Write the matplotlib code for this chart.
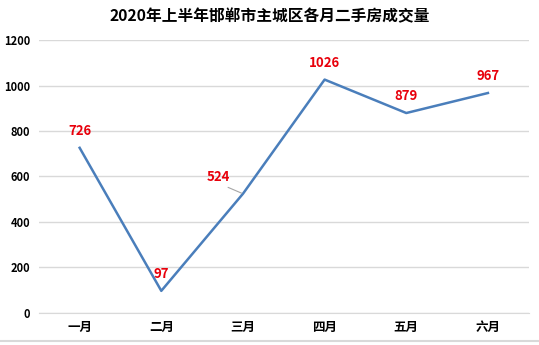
import matplotlib.pyplot as plt
from matplotlib.lines import Line2D

plt.rcParams['font.family'] = ['Noto Sans CJK SC', 'DejaVu Sans']

months = ['一月', '二月', '三月', '四月', '五月', '六月']
volumes = [726, 97, 524, 1026, 879, 967]
y_ticks = [0, 200, 400, 600, 800, 1000, 1200]
title = '2020年上半年邯郸市主城区各月二手房成交量'

fig = plt.figure(figsize=(5.39, 3.45), dpi=100)
ax = fig.add_axes([0.072, 0.093, 0.909, 0.791])

x = list(range(len(months)))
ax.plot(x, volumes, color='#4a7ebb', linewidth=1.8)

ax.set_xlim(-0.5, len(months) - 0.5)
ax.set_ylim(0, 1200)
ax.set_yticks(y_ticks)
ax.set_yticklabels([str(v) for v in y_ticks], fontsize=8, fontweight='bold')
ax.set_xticks(x)
ax.set_xticklabels(months, fontsize=9, fontweight='bold')
ax.tick_params(length=0, pad=6)
ax.grid(axis='y', color='#d9d9d9', linewidth=1)
ax.set_axisbelow(True)
for s in ['top', 'right', 'left']:
    ax.spines[s].set_visible(False)
ax.spines['bottom'].set_color('#d9d9d9')

for i, v in enumerate(volumes):
    if i == 2:
        ax.annotate(str(v), xy=(i, v), xytext=(-18, 7), textcoords='offset points',
                    ha='center', va='bottom', color='#e8000b', fontsize=9.5, fontweight='bold',
                    arrowprops=dict(arrowstyle='-', color='#a6a6a6', lw=0.8,
                                    shrinkA=1, shrinkB=1, relpos=(0.6, 0)))
    else:
        ax.annotate(str(v), xy=(i, v), xytext=(0, 7), textcoords='offset points',
                    ha='center', va='bottom', color='#e8000b', fontsize=9.5, fontweight='bold')

fig.suptitle(title, y=0.975, fontsize=11.3, fontweight='bold')
fig.add_artist(Line2D([0, 1], [0.012, 0.012], color='#d9d9d9', linewidth=1.5,
                      transform=fig.transFigure))

fig.savefig('out.png', dpi=100, facecolor='white')
